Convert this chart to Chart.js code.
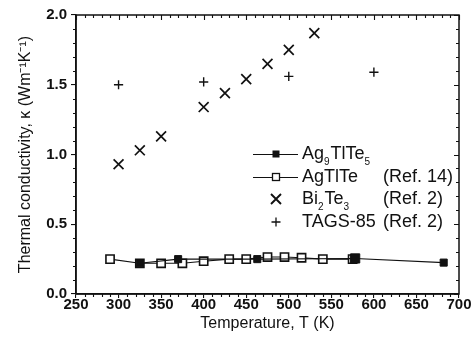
<!DOCTYPE html>
<html>
<head>
<meta charset="utf-8">
<script src="https://cdn.jsdelivr.net/npm/chart.js@4/dist/chart.umd.min.js"></script>
<style>
  html, body { margin: 0; padding: 0; background: #fff; }
  #wrap { width: 476px; height: 343px; }
</style>
</head>
<body>
<div id="wrap"><canvas id="c" width="476" height="343"></canvas></div>
<script>
// Thermal conductivity κ (W m^-1 K^-1) versus temperature T (K)
const ag9T = [325, 370, 463, 578, 682];
const ag9K = [0.22, 0.25, 0.25, 0.255, 0.225];

const agTlTeT = [290, 325, 350, 375, 400, 430, 450, 475, 495, 515, 540, 575];
const agTlTeK = [0.25, 0.22, 0.22, 0.22, 0.235, 0.25, 0.25, 0.265, 0.265, 0.26, 0.25, 0.25];

const bi2te3T = [300, 325, 350, 400, 425, 450, 475, 500, 530];
const bi2te3K = [0.93, 1.03, 1.13, 1.34, 1.44, 1.54, 1.65, 1.75, 1.87];

const tagsT = [300, 400, 500, 600];
const tagsK = [1.50, 1.52, 1.56, 1.59];

const xTicks = [250, 300, 350, 400, 450, 500, 550, 600, 650, 700];
const yTicks = [0.0, 0.5, 1.0, 1.5, 2.0];

const FONT = '"Liberation Sans", Arial, Helvetica, sans-serif';
const INK = '#111';

const pts = (xs, ys) => xs.map((x, i) => ({ x, y: ys[i] }));

// Minor ticks, mirrored ticks on the top/right edges and the closed frame
const framePlugin = {
  id: 'frame',
  afterDraw(chart) {
    const { ctx, chartArea: a, scales: { x, y } } = chart;
    ctx.save();
    ctx.strokeStyle = INK;
    ctx.lineWidth = 1.5;
    ctx.strokeRect(a.left, a.top, a.right - a.left, a.bottom - a.top);
    ctx.lineWidth = 1.1;
    ctx.beginPath();
    for (let v = x.min; v <= x.max + 1e-9; v += 10) {
      const px = Math.round(x.getPixelForValue(v)) + 0.5;
      const major = Math.abs(v % 50) < 1e-6;
      const len = major ? 5 : 3;
      if (!major) { ctx.moveTo(px, a.bottom); ctx.lineTo(px, a.bottom + len); }
      ctx.moveTo(px, a.top); ctx.lineTo(px, a.top + len);
    }
    for (let i = 0; i <= 20; i++) {
      const v = i / 10;
      const py = Math.round(y.getPixelForValue(v)) + 0.5;
      const major = i % 5 === 0;
      const len = major ? 5 : 3;
      if (!major) { ctx.moveTo(a.left, py); ctx.lineTo(a.left - len, py); }
      ctx.moveTo(a.right, py); ctx.lineTo(a.right - len, py);
    }
    ctx.stroke();
    ctx.restore();
  }
};

// Legend block with chemical subscripts
const legendPlugin = {
  id: 'formulaLegend',
  afterDatasetsDraw(chart) {
    const { ctx } = chart;
    const rows = [
      { y: 154, sym: 'filled', parts: [['Ag'], ['9', 1], ['TlTe'], ['5', 1]], ref: '' },
      { y: 177, sym: 'open', parts: [['AgTlTe']], ref: '(Ref. 14)' },
      { y: 199, sym: 'x', parts: [['Bi'], ['2', 1], ['Te'], ['3', 1]], ref: '(Ref. 2)' },
      { y: 222, sym: 'plus', parts: [['TAGS-85']], ref: '(Ref. 2)' }
    ];
    const lineX0 = 253, lineX1 = 298, symX = 276, textX = 302, refX = 383;
    ctx.save();
    ctx.strokeStyle = INK;
    ctx.fillStyle = INK;
    rows.forEach(r => {
      ctx.lineWidth = 1.2;
      if (r.sym === 'filled' || r.sym === 'open') {
        ctx.beginPath();
        ctx.moveTo(lineX0, r.y + 0.5); ctx.lineTo(lineX1, r.y + 0.5);
        ctx.stroke();
        if (r.sym === 'filled') {
          ctx.fillRect(symX - 3.5, r.y - 3.5, 7, 7);
        } else {
          ctx.fillStyle = '#fff';
          ctx.fillRect(symX - 3.5, r.y - 3.5, 7, 7);
          ctx.fillStyle = INK;
          ctx.lineWidth = 1.3;
          ctx.strokeRect(symX - 3.5, r.y - 3.5, 7, 7);
        }
      } else if (r.sym === 'x') {
        ctx.lineWidth = 1.9;
        ctx.beginPath();
        ctx.moveTo(symX - 5, r.y - 5); ctx.lineTo(symX + 5, r.y + 5);
        ctx.moveTo(symX + 5, r.y - 5); ctx.lineTo(symX - 5, r.y + 5);
        ctx.stroke();
      } else {
        ctx.lineWidth = 1.3;
        ctx.beginPath();
        ctx.moveTo(symX - 4.5, r.y); ctx.lineTo(symX + 4.5, r.y);
        ctx.moveTo(symX, r.y - 4.5); ctx.lineTo(symX, r.y + 4.5);
        ctx.stroke();
      }
      ctx.textBaseline = 'middle';
      ctx.textAlign = 'left';
      let tx = textX;
      r.parts.forEach(([t, sub]) => {
        if (sub) {
          ctx.font = '10px ' + FONT;
          ctx.fillText(t, tx, r.y + 8);
        } else {
          ctx.font = '18px ' + FONT;
          ctx.fillText(t, tx, r.y);
        }
        tx += ctx.measureText(t).width + (sub ? 1 : 0);
      });
      if (r.ref) {
        ctx.font = '18px ' + FONT;
        ctx.fillText(r.ref, refX, r.y);
      }
    });
    ctx.restore();
  }
};

new Chart(document.getElementById('c'), {
  type: 'scatter',
  data: {
    datasets: [
      {
        label: 'Ag9TlTe5',
        data: pts(ag9T, ag9K),
        showLine: true,
        borderColor: INK,
        borderWidth: 1.1,
        backgroundColor: INK,
        pointStyle: 'rect',
        pointRadius: [5, 5, 5, 6.5, 5],
        pointBorderWidth: 1,
        pointBorderColor: INK,
        pointBackgroundColor: INK
      },
      {
        label: 'AgTlTe (Ref. 14)',
        data: pts(agTlTeT, agTlTeK),
        showLine: true,
        borderColor: INK,
        borderWidth: 1.1,
        pointStyle: 'rect',
        pointRadius: 5.8,
        pointBorderWidth: 1.6,
        pointBorderColor: INK,
        pointBackgroundColor: '#fff'
      },
      {
        label: 'Bi2Te3 (Ref. 2)',
        data: pts(bi2te3T, bi2te3K),
        showLine: false,
        pointStyle: 'crossRot',
        pointRadius: 7,
        pointBorderWidth: 1.7,
        pointBorderColor: INK
      },
      {
        label: 'TAGS-85 (Ref. 2)',
        data: pts(tagsT, tagsK),
        showLine: false,
        pointStyle: 'cross',
        pointRadius: 4.6,
        pointBorderWidth: 1.4,
        pointBorderColor: INK
      }
    ]
  },
  options: {
    responsive: false,
    animation: false,
    devicePixelRatio: 1,
    layout: { padding: { left: 0, right: 17, top: 15, bottom: 0 } },
    plugins: { legend: { display: false }, tooltip: { enabled: false } },
    scales: {
      x: {
        type: 'linear',
        min: 250, max: 700,
        afterBuildTicks: s => { s.ticks = xTicks.map(v => ({ value: v })); },
        afterFit: s => { s.height = 49; },
        grid: { drawOnChartArea: false, drawTicks: true, tickLength: 4, color: INK, lineWidth: 1.1 },
        border: { display: true, color: INK, width: 1.5 },
        ticks: { color: INK, padding: -2, maxRotation: 0, autoSkip: false,
                 font: { family: FONT, size: 15, weight: 'bold' } },
        title: { display: true, text: 'Temperature, T (K)', color: INK,
                 font: { family: FONT, size: 16 }, padding: { top: 0, bottom: 10 } }
      },
      y: {
        type: 'linear',
        min: 0, max: 2,
        afterBuildTicks: s => { s.ticks = yTicks.map(v => ({ value: v })); },
        afterFit: s => { s.width = 76; },
        grid: { drawOnChartArea: false, drawTicks: true, tickLength: 5, color: INK, lineWidth: 1.1 },
        border: { display: true, color: INK, width: 1.5 },
        ticks: { color: INK, padding: 4, autoSkip: false,
                 callback: v => v.toFixed(1),
                 font: { family: FONT, size: 15, weight: 'bold' } },
        title: { display: true, text: 'Thermal conductivity, κ (Wm⁻¹K⁻¹)', color: INK,
                 font: { family: FONT, size: 16 }, padding: { top: 16, bottom: 0 } }
      }
    }
  },
  plugins: [framePlugin, legendPlugin]
});
</script>
</body>
</html>
